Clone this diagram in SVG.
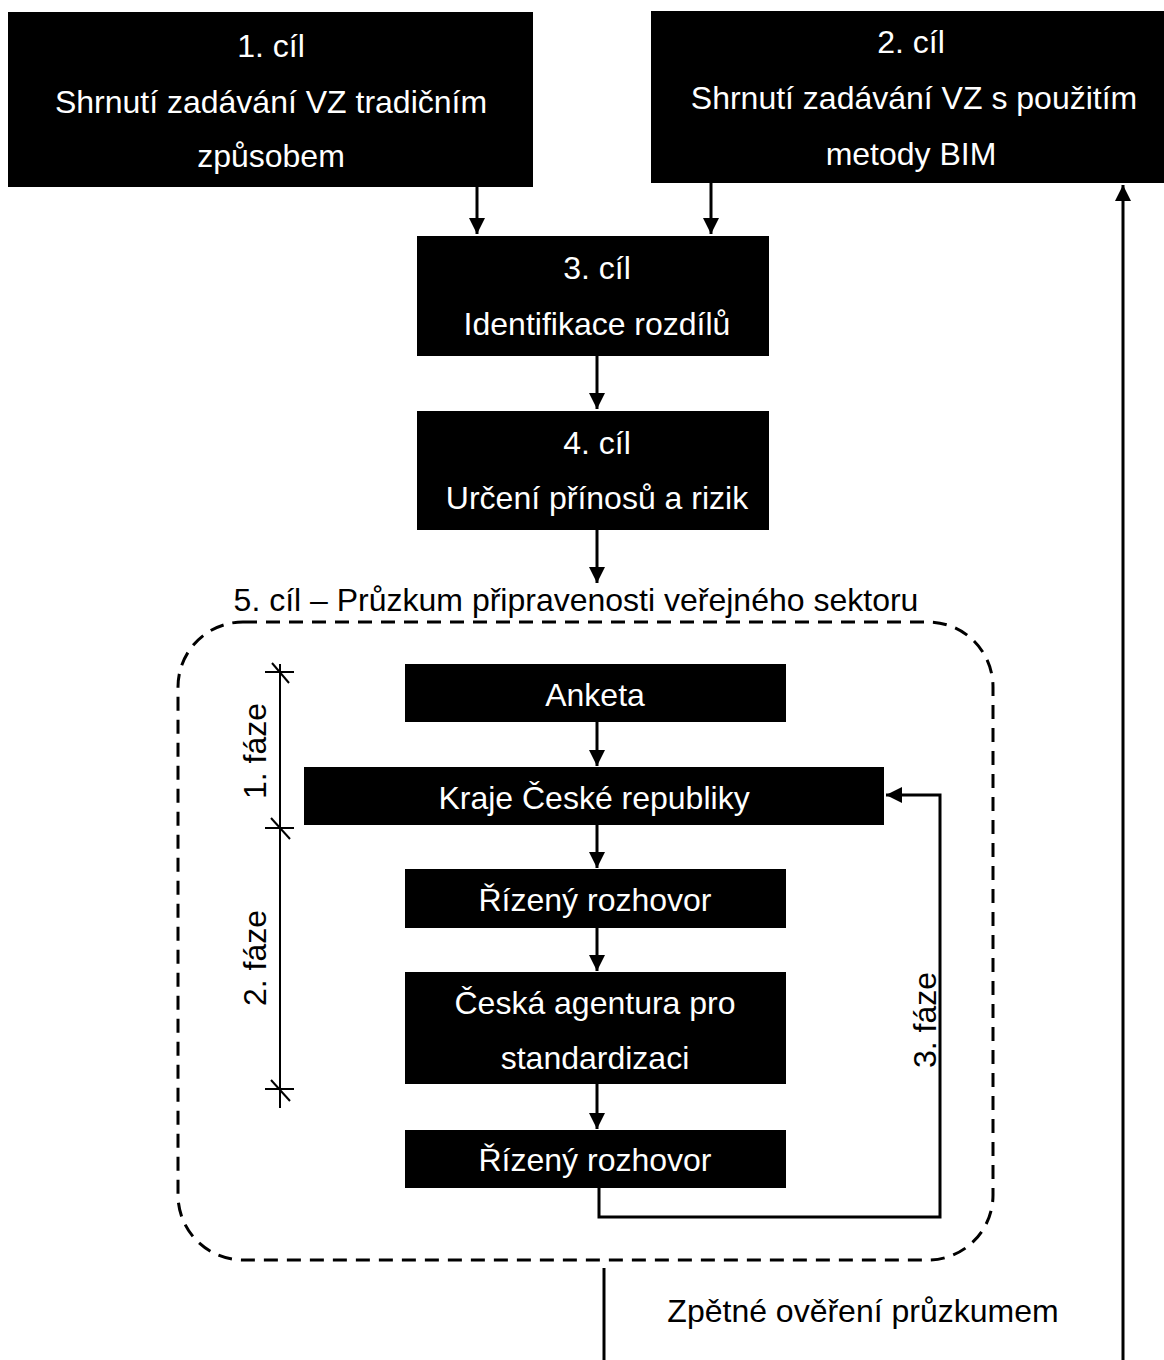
<svg xmlns="http://www.w3.org/2000/svg" width="1164" height="1360" viewBox="0 0 1164 1360">
  <defs>
    <marker id="arrow" markerUnits="userSpaceOnUse" markerWidth="18" markerHeight="18" refX="16" refY="8" orient="auto">
      <path d="M0,0 L16,8 L0,16 Z" fill="#000"/>
    </marker>
    <style>
      .box { fill: #000; }
      .lbl { font-family: "Liberation Sans", Arial, sans-serif; font-size: 32px; fill: #fff; text-anchor: middle; }
      .txt { font-family: "Liberation Sans", Arial, sans-serif; font-size: 32px; fill: #000; text-anchor: middle; }
      .edge { fill: none; stroke: #000; stroke-width: 3; }
      .arr { marker-end: url(#arrow); }
      .group { fill: none; stroke: #000; stroke-width: 3; stroke-dasharray: 14 9; }
      .tick { stroke: #000; stroke-width: 2; fill: none; }
    </style>
  </defs>
  <rect width="1164" height="1360" fill="#fff"/>

  <!-- survey container -->
  <g id="survey">
    <rect class="group" x="178" y="622" width="815" height="638" rx="65" ry="65"/>
    <text class="txt" x="576" y="611">5. cíl – Průzkum připravenosti veřejného sektoru</text>
  </g>

  <g id="goal1">
    <rect class="box" x="8" y="12" width="525" height="175"/>
    <text class="lbl" x="271" y="57">1. cíl</text>
    <text class="lbl" x="271" y="113">Shrnutí zadávání VZ tradičním</text>
    <text class="lbl" x="271" y="167">způsobem</text>
  </g>
  <g id="goal2">
    <rect class="box" x="651" y="11" width="513" height="172"/>
    <text class="lbl" x="911" y="53">2. cíl</text>
    <text class="lbl" x="914" y="109">Shrnutí zadávání VZ s použitím</text>
    <text class="lbl" x="911" y="165">metody BIM</text>
  </g>
  <g id="goal3">
    <rect class="box" x="417" y="236" width="352" height="120"/>
    <text class="lbl" x="597" y="279">3. cíl</text>
    <text class="lbl" x="597" y="335">Identifikace rozdílů</text>
  </g>
  <g id="goal4">
    <rect class="box" x="417" y="411" width="352" height="119"/>
    <text class="lbl" x="597" y="454">4. cíl</text>
    <text class="lbl" x="597" y="509">Určení přínosů a rizik</text>
  </g>
  <g id="anketa">
    <rect class="box" x="405" y="664" width="381" height="58"/>
    <text class="lbl" x="595" y="706">Anketa</text>
  </g>
  <g id="kraje">
    <rect class="box" x="304" y="767" width="580" height="58"/>
    <text class="lbl" x="594" y="809">Kraje České republiky</text>
  </g>
  <g id="rozhovor1">
    <rect class="box" x="405" y="869" width="381" height="59"/>
    <text class="lbl" x="595" y="911">Řízený rozhovor</text>
  </g>
  <g id="cas">
    <rect class="box" x="405" y="972" width="381" height="112"/>
    <text class="lbl" x="595" y="1014">Česká agentura pro</text>
    <text class="lbl" x="595" y="1069">standardizaci</text>
  </g>
  <g id="rozhovor2">
    <rect class="box" x="405" y="1130" width="381" height="58"/>
    <text class="lbl" x="595" y="1171">Řízený rozhovor</text>
  </g>

  <!-- phase scale -->
  <g id="phases">
    <line class="tick" x1="280" y1="664" x2="280" y2="1108"/>
    <line class="tick" x1="265" y1="672" x2="294" y2="672"/>
    <line class="tick" x1="272" y1="663" x2="289" y2="683"/>
    <line class="tick" x1="265" y1="828" x2="294" y2="828"/>
    <line class="tick" x1="271" y1="818" x2="290" y2="839"/>
    <line class="tick" x1="265" y1="1089" x2="294" y2="1089"/>
    <line class="tick" x1="271" y1="1080" x2="290" y2="1101"/>
    <text class="txt" transform="translate(266 751) rotate(-90)">1. fáze</text>
    <text class="txt" transform="translate(266 958) rotate(-90)">2. fáze</text>
    <text class="txt" transform="translate(936 1020) rotate(-90)">3. fáze</text>
  </g>

  <!-- connectors -->
  <g id="connectors">
    <line class="edge arr" x1="477" y1="187" x2="477" y2="234"/>
    <line class="edge arr" x1="711" y1="183" x2="711" y2="234"/>
    <line class="edge arr" x1="597" y1="356" x2="597" y2="409"/>
    <line class="edge arr" x1="597" y1="530" x2="597" y2="583"/>
    <line class="edge arr" x1="597" y1="722" x2="597" y2="766"/>
    <line class="edge arr" x1="597" y1="825" x2="597" y2="868"/>
    <line class="edge arr" x1="597" y1="928" x2="597" y2="971"/>
    <line class="edge arr" x1="597" y1="1084" x2="597" y2="1129"/>
    <polyline class="edge arr" points="599,1188 599,1217 940,1217 940,795 886,795"/>
    <line class="edge" x1="604" y1="1268" x2="604" y2="1360"/>
    <line class="edge arr" x1="1123" y1="1360" x2="1123" y2="185"/>
  </g>
  <text class="txt" x="863" y="1322">Zpětné ověření průzkumem</text>
</svg>
